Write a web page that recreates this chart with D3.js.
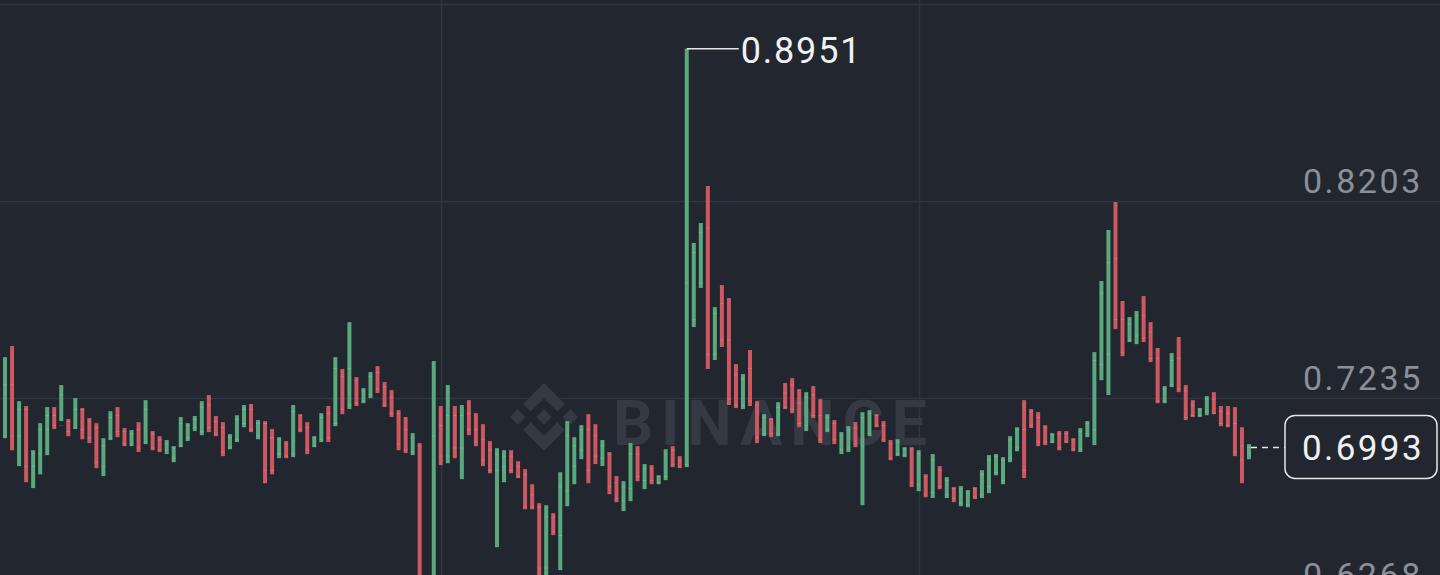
<!DOCTYPE html>
<html>
<head>
<meta charset="utf-8">
<script src="https://cdn.jsdelivr.net/npm/d3@7/dist/d3.min.js"></script>
<style>
  html, body { margin: 0; padding: 0; background: #22262e; overflow: hidden; }
  svg { display: block; }
  text { font-family: Roboto, "Noto Sans", sans-serif; }
</style>
</head>
<body>
<div id="app"></div>
<script>
// candle data, oldest first (one per bar, first one is cut off at the left edge)
var highs = [
  .7088, .7436, .7491, .7220, .7196, .6979, .7112, .7191, .7191, .7299,
  .7132, .7235, .7186, .7137, .7112, .7038, .7171, .7191, .7088, .7078,
  .7117, .7225, .7073, .7048, .7029, .6999, .7142, .7112, .7147, .7220,
  .7250, .7147, .7117, .7058, .7151, .7201, .7206, .7127, .7122, .7083,
  .7043, .7024, .7201, .7156, .7117, .7048, .7161, .7196, .7436, .7378,
  .7608, .7338, .7284, .7363, .7392, .7314, .7274, .7176, .7142, .7063,
  .7014, .6292, .7417, .7196, .7299, .7196, .7201, .7225, .7161, .7107,
  .7024, .6989, .6979, .6979, .6925, .6886, .6812, .6719, .6709, .6670,
  .6871, .7122, .7043, .7102, .7156, .7107, .7029, .6970, .6852, .6827,
  .7014, .6999, .6911, .6906, .6856, .6984, .6999, .6950, .8951, .7997,
  .8095, .8277, .7682, .7790, .7726, .7402, .7353, .7471, .7220, .7156,
  .7137, .7215, .7309, .7333, .7279, .7264, .7294, .7230, .7156, .7127,
  .7068, .7097, .7117, .7166, .7176, .7156, .7122, .7029, .7033, .6994,
  .6994, .6979, .6861, .6960, .6901, .6847, .6798, .6803, .6783, .6798,
  .6881, .6955, .6960, .6945, .7048, .7092, .7225, .7181, .7166, .7102,
  .7063, .7073, .7073, .7038, .7088, .7122, .7461, .7810, .8061, .8198,
  .7712, .7633, .7663, .7736, .7608, .7481, .7294, .7456, .7535, .7299,
  .7225, .7186, .7245, .7264, .7196, .7196, .7191, .7092, .7009
]
var lows = [
  .6881, .7038, .6979, .6901, .6822, .6793, .6861, .6955, .7083, .7122,
  .7048, .7083, .7033, .7014, .6891, .6852, .7029, .7043, .6999, .6999,
  .6970, .7009, .6979, .6970, .6960, .6920, .6994, .7024, .7073, .7053,
  .7068, .7048, .6950, .6984, .7019, .7092, .7068, .7033, .6817, .6861,
  .6940, .6940, .6945, .7068, .6960, .6994, .7019, .7019, .7097, .7156,
  .7181, .7196, .7210, .7235, .7260, .7191, .7142, .6979, .6965, .6955,
  .6240, .6046, .6100, .6906, .6915, .6940, .6837, .7053, .6999, .6901,
  .6866, .6503, .6822, .6866, .6842, .6689, .6689, .6250, .6230, .6562,
  .6390, .6704, .6812, .6935, .6817, .6911, .6901, .6763, .6724, .6680,
  .6729, .6827, .6788, .6812, .6812, .6832, .6896, .6891, .6896, .7584,
  .7776, .7378, .7422, .7486, .7201, .7186, .7181, .7196, .7014, .7048,
  .7043, .7048, .7181, .7161, .7092, .7073, .7137, .7014, .7068, .7009,
  .6960, .6970, .6994, .6709, .7048, .7092, .7019, .6930, .6950, .6945,
  .6798, .6778, .6748, .6744, .6788, .6744, .6724, .6704, .6699, .6739,
  .6744, .6768, .6856, .6812, .6920, .6974, .6842, .7088, .6999, .7004,
  .7014, .6979, .7014, .6974, .6970, .7043, .7004, .7323, .7250, .7574,
  .7441, .7510, .7500, .7510, .7412, .7210, .7210, .7289, .7264, .7127,
  .7142, .7142, .7151, .7156, .7097, .7092, .6950, .6817, .6935
]
var opens = [
  .6900, .7050, .7300, .7050, .7180, .6900, .6960, .7080, .7150, .7100,
  .7120, .7090, .7180, .7120, .7090, .6900, .7040, .7150, .7070, .7010,
  .7080, .7020, .7060, .7030, .6980, .6940, .7000, .7040, .7090, .7070,
  .7200, .7120, .7090, .6990, .7030, .7110, .7180, .7050, .7110, .7040,
  .6960, .7010, .6960, .7150, .7090, .7000, .7030, .7160, .7110, .7340,
  .7200, .7320, .7220, .7250, .7360, .7290, .7240, .7160, .7080, .6970,
  .7000, .6280, .6150, .7100, .6950, .7150, .6990, .7160, .7080, .7030,
  .6980, .6880, .6900, .6950, .6900, .6860, .6760, .6700, .6400, .6650,
  .6560, .6780, .6900, .6980, .7080, .7050, .6940, .6960, .6820, .6730,
  .6790, .6960, .6830, .6890, .6820, .6850, .6980, .6930, .6910, .7620,
  .7800, .8070, .7450, .7700, .7520, .7350, .7200, .7380, .7200, .7060,
  .7130, .7060, .7260, .7300, .7210, .7100, .7250, .7150, .7080, .7110,
  .6980, .6990, .7090, .7000, .7060, .7150, .7100, .7010, .6960, .6955,
  .6985, .6810, .6850, .6770, .6880, .6760, .6790, .6720, .6710, .6790,
  .6760, .6800, .6870, .6830, .6940, .6990, .7080, .7170, .7140, .7090,
  .7020, .7060, .7060, .7030, .6985, .7060, .7080, .7400, .7450, .7920,
  .7620, .7520, .7540, .7640, .7560, .7430, .7220, .7300, .7430, .7270,
  .7200, .7150, .7170, .7230, .7170, .7160, .7110, .7000, .6960
]
var closes = [
  .7070, .7300, .7050, .7180, .6900, .6960, .7080, .7150, .7100, .7250,
  .7070, .7180, .7080, .7040, .6920, .7000, .7140, .7070, .7010, .7060,
  .6990, .7180, .6990, .6980, .7010, .6990, .7110, .7100, .7130, .7190,
  .7090, .7060, .6970, .7040, .7130, .7180, .7080, .7110, .6880, .6880,
  .7030, .6950, .7170, .7080, .6980, .7040, .7140, .7040, .7380, .7180,
  .7380, .7210, .7270, .7340, .7280, .7200, .7160, .7010, .6980, .7040,
  .6300, .6100, .7050, .6950, .7150, .6990, .7150, .7080, .7020, .6930,
  .6880, .6960, .6950, .6880, .6850, .6700, .6700, .6400, .6650, .6580,
  .6800, .7050, .7000, .7080, .6880, .6950, .7000, .6800, .6740, .6800,
  .6960, .6850, .6890, .6830, .6850, .6960, .6910, .6900, .7800, .7950,
  .8050, .7450, .7650, .7520, .7230, .7200, .7330, .7220, .7040, .7140,
  .7060, .7190, .7190, .7180, .7110, .7240, .7150, .7030, .7140, .7030,
  .7050, .7080, .7010, .7140, .7160, .7100, .7030, .6940, .7020, .6985,
  .6820, .6960, .6760, .6930, .6800, .6830, .6740, .6790, .6770, .6750,
  .6860, .6930, .6950, .6930, .7030, .7080, .6880, .7100, .7020, .7020,
  .7055, .6990, .7020, .6985, .7070, .7110, .7420, .7750, .7900, .7620,
  .7460, .7600, .7640, .7530, .7430, .7220, .7280, .7420, .7280, .7140,
  .7150, .7180, .7230, .7160, .7110, .7100, .6970, .6930, .6993
]
// price axis ticks and the candle slots where the time grid falls
var priceTicks = [0.6268, 0.7235, 0.8203, 0.9171]
var timeGridAt = [63, 131]
var peakLabel = "0.8951"
var lastPrice = 0.6993

var W = 1440, H = 575
var green = "#5aa87e", red = "#cd5862"

var candles = highs.map(function(h, i) {
  return {i: i, open: opens[i], high: h, low: lows[i], close: closes[i]}
})

var svg = d3.select("#app").append("svg")
  .attr("width", W).attr("height", H)

svg.append("rect").attr("width", W).attr("height", H).attr("fill", "#22262e")

var x = d3.scaleLinear().domain([0, candles.length - 1]).range([-2, 1249])
var y = d3.scaleLinear().domain([0.6268, 0.8203]).range([595, 201])

// grid
svg.append("g").selectAll("line").data(priceTicks).enter().append("line")
  .attr("x1", 0).attr("x2", W)
  .attr("y1", d => Math.round(y(d)) + 0.5).attr("y2", d => Math.round(y(d)) + 0.5)
  .attr("stroke", "#31353f").attr("stroke-width", 1.5)

svg.append("g").selectAll("line").data(timeGridAt).enter().append("line")
  .attr("y1", 0).attr("y2", H)
  .attr("x1", d => Math.round(x(d)) + 0.5).attr("x2", d => Math.round(x(d)) + 0.5)
  .attr("stroke", "#31353f").attr("stroke-width", 1.5)

// watermark
var wm = svg.append("g").attr("fill", "#353943")
wm.append("g").attr("transform", "translate(510,383) scale(0.537)")
  .selectAll("path").data([
    "M38.73 53.2l24.59-24.58 24.6 24.6 14.3-14.31L63.32 0 24.43 38.9l14.3 14.3zM0 63.31L14.3 49l14.31 14.31-14.31 14.3zM38.73 73.43l24.59 24.59 24.6-24.6 14.31 14.29-38.9 38.91-38.91-38.88-.02-.02 14.33-14.29zM98.01 63.31l14.3-14.31 14.31 14.31-14.31 14.3z",
    "M77.83 63.3L63.32 48.78 52.59 59.51l-1.24 1.23-2.54 2.54-.02.02.02.03 14.51 14.5 14.51-14.52.01-.01-.01-.01z"
  ]).enter().append("path").attr("d", d => d)
wm.append("text").text("BINANCE")
  .attr("x", 613).attr("y", 445)
  .attr("font-size", 63).attr("font-weight", 700)
  .attr("textLength", 314).attr("lengthAdjust", "spacing")

// candles
var bw = 4
var g = svg.append("g")
g.selectAll("rect.wick").data(candles).enter().append("rect")
  .attr("class", "wick")
  .attr("x", d => x(d.i) - bw / 2)
  .attr("width", bw)
  .attr("y", d => y(d.high))
  .attr("height", d => Math.max(1, y(d.low) - y(d.high)))
  .attr("fill", d => d.close >= d.open ? green : red)

g.selectAll("line.tick").data(candles.flatMap(d => [d.open, d.close].map(v => ({i: d.i, v: v})))).enter()
  .append("line").attr("class", "tick")
  .attr("x1", d => x(d.i) - bw / 2).attr("x2", d => x(d.i) + bw / 2)
  .attr("y1", d => y(d.v)).attr("y2", d => y(d.v))
  .attr("stroke", "rgba(255,255,255,0.15)").attr("stroke-width", 1)

// price axis labels (the top one sits above the window, so it is left out)
svg.append("g").selectAll("text").data(priceTicks.filter(d => y(d) > 40)).enter().append("text")
  .text(d => d3.format(".4f")(d))
  .attr("x", 1423).attr("y", d => y(d) - 8)
  .attr("text-anchor", "end")
  .attr("font-size", 34).attr("letter-spacing", 2.6)
  .attr("fill", "#8a8f99")

// highest price marker
var peak = candles[d3.maxIndex(candles, d => d.high)]
svg.append("path")
  .attr("d", "M" + x(peak.i) + "," + y(peak.high) + "H" + (x(peak.i) + 52))
  .attr("stroke", "#e6e6e6").attr("stroke-width", 1.5).attr("fill", "none")
svg.append("text").text(peakLabel)
  .attr("x", x(peak.i) + 54).attr("y", y(peak.high) + 14)
  .attr("font-size", 36).attr("letter-spacing", 1.8)
  .attr("fill", "#f0f0f0")

// last price
var last = candles[candles.length - 1]
svg.append("line")
  .attr("x1", x(last.i) + 2).attr("x2", 1285)
  .attr("y1", y(lastPrice)).attr("y2", y(lastPrice))
  .attr("stroke", "#e6e6e6").attr("stroke-width", 1.5).attr("stroke-dasharray", "6,5")
svg.append("rect")
  .attr("x", 1285).attr("y", y(lastPrice) - 32).attr("width", 152).attr("height", 63)
  .attr("rx", 10).attr("fill", "#22262e").attr("stroke", "#e6e6e6").attr("stroke-width", 1.5)
svg.append("text").text(d3.format(".4f")(lastPrice))
  .attr("x", 1363).attr("y", y(lastPrice) + 13)
  .attr("text-anchor", "middle")
  .attr("font-size", 35).attr("letter-spacing", 2.4)
  .attr("fill", "#f0f0f0")
</script>
</body>
</html>
